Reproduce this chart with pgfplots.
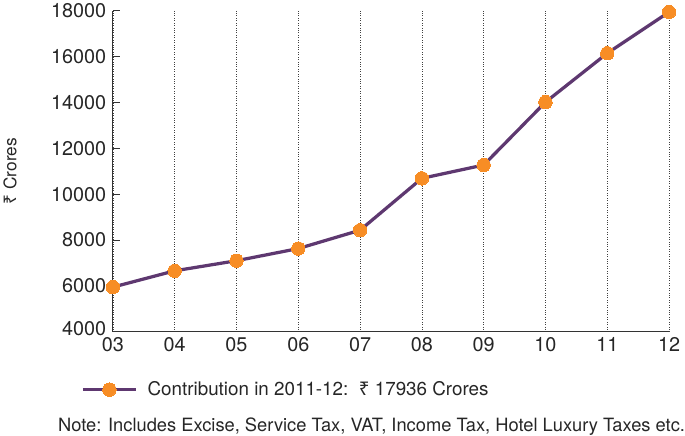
\documentclass[border=0pt]{standalone}
\usepackage{fontspec}
\setmainfont{TeX Gyre Heros}
\newfontfamily\rupeefont{Noto Sans}
\usepackage{pgfplots}
\pgfplotsset{compat=1.18}
\definecolor{linepurple}{RGB}{94,56,112}
\definecolor{dotorange}{RGB}{247,141,37}
\newcommand{\rupee}{{\rupeefont ₹}}
\begin{document}
\begin{tikzpicture}
\begin{axis}[
  scale only axis,
  width=547bp, height=316bp,
  xmin=0, xmax=9, ymin=4000, ymax=18000,
  enlargelimits=false,
  clip=false,
  scaled y ticks=false,
  axis lines*=left,
  axis line style={draw=black!80, line width=0.9pt},
  xtick={0,1,2,3,4,5,6,7,8,9},
  xticklabels={03,04,05,06,07,08,09,10,11,12},
  ytick={4000,6000,8000,10000,12000,14000,16000,18000},
  yticklabels={\raisebox{6bp}{4000},6000,8000,10000,12000,14000,16000,18000},
  tick align=inside,
  major tick length=7bp,
  ytick style={draw=black!80, line width=1pt},
  xtick style={draw=none},
  xmajorgrids,
  major x grid style={dotted, draw=black!75, line width=0.7pt},
  /pgf/number format/assume math mode=true,
  tick label style={font=\fontsize{19.5bp}{22bp}\selectfont, text=black!85},
  yticklabel style={xshift=-3bp},
  xticklabel style={yshift=-2bp},
  ylabel={\rupee\ Crores},
  ylabel style={at={(axis description cs:-0.185,0.5)}, anchor=center, font=\fontsize{17bp}{20bp}\selectfont, text=black!85},
  legend style={at={(axis description cs:-0.057,-0.18)}, anchor=west, draw=none, fill=none,
    font=\fontsize{18.5bp}{22bp}\selectfont, text=black!85, inner sep=0pt},
  legend cell align=left,
  legend image code/.code={\draw[mark repeat=2,mark phase=2,#1] plot coordinates {(0bp,0bp) (26bp,0bp) (52bp,0bp)};},
]
\addplot[color=linepurple, line width=3.2pt, mark=*, mark size=6.6bp,
  mark options={fill=dotorange, draw=dotorange, line width=0pt}]
  coordinates {(0,5950) (1,6660) (2,7100) (3,7630) (4,8430) (5,10690) (6,11270) (7,14010) (8,16140) (9,17936)};
\addlegendentry{\hspace{8bp}Contribution in 2011-12:\ \ \rupee\ 17936 Crores}
\node[anchor=east, inner sep=0pt, font=\fontsize{18bp}{21bp}\selectfont, text=black!85] at (axis description cs:1.029,-0.294)
  {Note: Includes Excise, Service Tax, VAT, Income Tax, Hotel Luxury Taxes etc.};
\end{axis}
\end{tikzpicture}
\end{document}
